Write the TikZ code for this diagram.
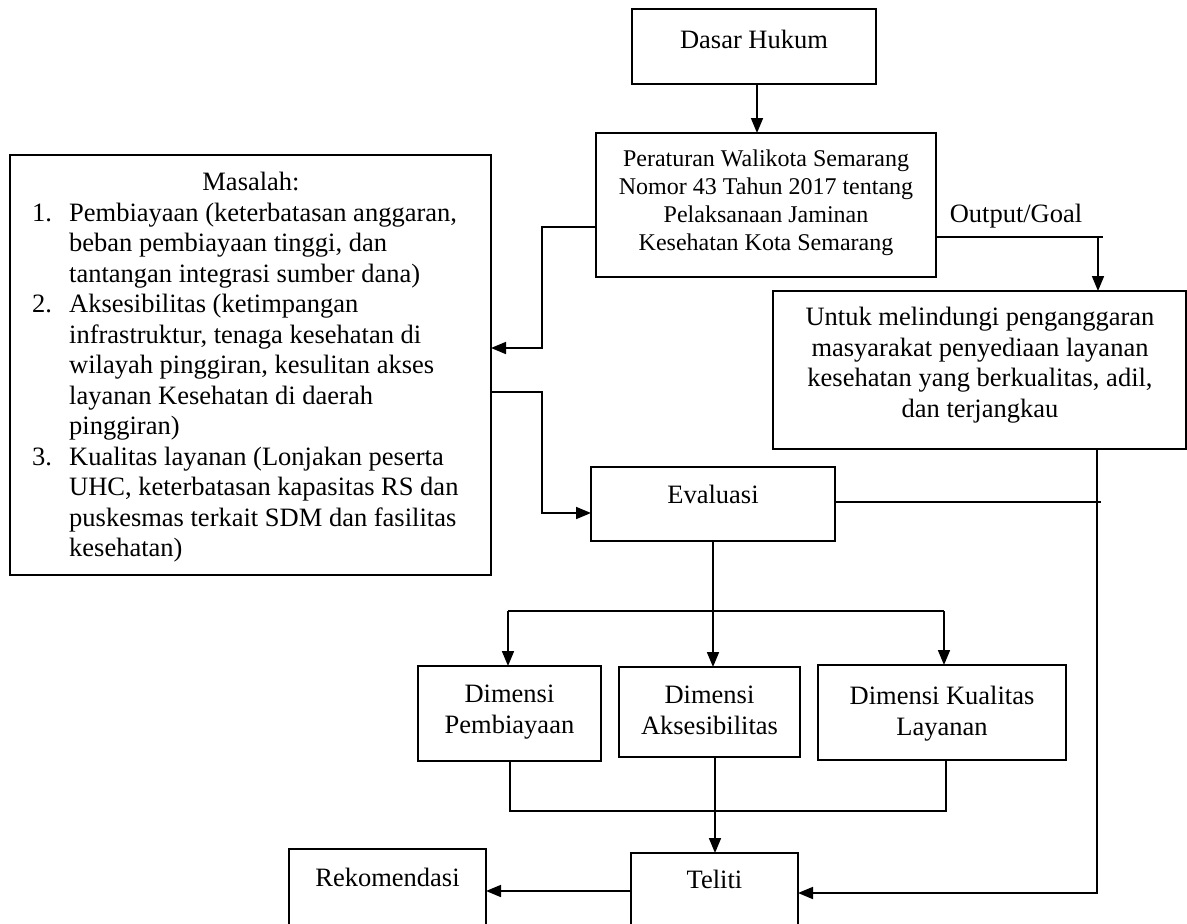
\documentclass[tikz,border=0pt]{standalone}
\usepackage{fontspec}
\setmainfont{Liberation Serif}
\usetikzlibrary{arrows.meta}
\begin{document}
\begin{tikzpicture}[x=1pt,y=-1pt,
  box/.style={draw, line width=1.7pt, inner sep=0pt, outer sep=0pt},
  txt/.style={inner sep=0pt, align=center, font=\fontsize{26.5}{30.5}\selectfont},
  smalltxt/.style={inner sep=0pt, align=center, font=\fontsize{24}{28}\selectfont},
  listtxt/.style={inner sep=0pt, align=left, font=\fontsize{26.5}{30.5}\selectfont},
  conn/.style={line width=1.7pt},
  arr/.style={conn, -{Triangle[length=15pt,width=12pt]}}]
\useasboundingbox (0,0) rectangle (1187,924);
\clip (0,0) rectangle (1187,924);
\fill[white] (0,0) rectangle (1187,924);

% boxes
\node[box, minimum width=244pt, minimum height=75pt] (dasar) at (754,46.5) {};
\node[box, minimum width=340pt, minimum height=144pt] (peraturan) at (766,205) {};
\node[box, minimum width=481pt, minimum height=420pt] (masalah) at (250.5,365) {};
\node[box, minimum width=413pt, minimum height=158pt] (untuk) at (979.5,370) {};
\node[box, minimum width=244pt, minimum height=74pt] (evaluasi) at (713,504) {};
\node[box, minimum width=183pt, minimum height=95pt] (pemb) at (509.5,713.5) {};
\node[box, minimum width=181pt, minimum height=90pt] (akses) at (709.5,712) {};
\node[box, minimum width=248pt, minimum height=95pt] (kual) at (942,712.5) {};
\node[box, minimum width=167pt, minimum height=82pt] (teliti) at (714.5,894) {};
\node[box, minimum width=197pt, minimum height=86pt] (rekom) at (387.5,892) {};

% texts (anchor=base is the baseline of the last line)
\node[txt, anchor=base] (tdasar) at (754,48) {Dasar Hukum};
\node[smalltxt, anchor=base] (tperaturan) at (766,250) {Peraturan Walikota Semarang\\Nomor 43 Tahun 2017 tentang\\Pelaksanaan Jaminan\\Kesehatan Kota Semarang};
\node[txt, anchor=base] (tmasalah) at (251,190) {Masalah:};
\node[listtxt, anchor=base west] (tlist) at (32,556.5) {%
\makebox[37pt][l]{1.}Pembiayaan (keterbatasan anggaran,\\
\hspace*{37pt}beban pembiayaan tinggi, dan\\
\hspace*{37pt}tantangan integrasi sumber dana)\\
\makebox[37pt][l]{2.}Aksesibilitas (ketimpangan\\
\hspace*{37pt}infrastruktur, tenaga kesehatan di\\
\hspace*{37pt}wilayah pinggiran, kesulitan akses\\
\hspace*{37pt}layanan Kesehatan di daerah\\
\hspace*{37pt}pinggiran)\\
\makebox[37pt][l]{3.}Kualitas layanan (Lonjakan peserta\\
\hspace*{37pt}UHC, keterbatasan kapasitas RS dan\\
\hspace*{37pt}puskesmas terkait SDM dan fasilitas\\
\hspace*{37pt}kesehatan)};
\node[txt, anchor=base] (tuntuk) at (980,417) {Untuk melindungi penganggaran\\masyarakat penyediaan layanan\\kesehatan yang berkualitas, adil,\\dan terjangkau};
\node[txt, anchor=base] (teval) at (713,503) {Evaluasi};
\node[txt, anchor=base] (tpemb) at (509.5,733) {Dimensi\\Pembiayaan};
\node[txt, anchor=base] (takses) at (709.5,734) {Dimensi\\Aksesibilitas};
\node[txt, anchor=base] (tkual) at (942,735) {Dimensi Kualitas\\Layanan};
\node[txt, anchor=base] (tteliti) at (714.5,888) {Teliti};
\node[txt, anchor=base] (trekom) at (387.5,886) {Rekomendasi};
\node[txt, anchor=base] (outlbl) at (1016,222) {Output/Goal};

% connectors
\coordinate (c1) at (757,0);
\draw[arr] (dasar.south -| c1) -- (peraturan.north -| c1);

\coordinate (p1) at (542,227);
\coordinate (p2) at (542,348);
\draw[arr] (peraturan.west |- p1) -- (p1) -- (p2) -- (masalah.east |- p2);

\coordinate (m1) at (542,392);
\coordinate (m2) at (542,513);
\draw[arr] (masalah.east |- m1) -- (m1) -- (m2) -- (evaluasi.west |- m2);

\coordinate (o1) at (1103,237);
\coordinate (o2) at (1098,237);
\draw[conn] (peraturan.east |- o1) -- (o1);
\draw[arr] (o2) -- (untuk.north -| o2);

\coordinate (e1) at (1101,502);
\draw[conn] (evaluasi.east |- e1) -- (e1);

\coordinate (u1) at (1097,893);
\draw[arr] (untuk.south -| u1) -- (u1) -- (teliti.east |- u1);

\coordinate (br) at (713,611);
\coordinate (brl) at (508,611);
\coordinate (brr) at (944,611);
\draw[arr] (evaluasi.south -| br) -- (akses.north -| br);
\draw[conn] (brl) -- (brr);
\draw[arr] (brl) -- (pemb.north -| brl);
\draw[arr] (brr) -- (kual.north -| brr);

\coordinate (j1) at (510,811);
\coordinate (j2) at (946,811);
\draw[conn] (pemb.south -| j1) -- (j1) -- (j2) -- (kual.south -| j2);
\coordinate (ak) at (715,0);
\draw[arr] (akses.south -| ak) -- (teliti.north -| ak);

\coordinate (t1) at (0,891);
\draw[arr] (teliti.west |- t1) -- (rekom.east |- t1);
\end{tikzpicture}
\end{document}
